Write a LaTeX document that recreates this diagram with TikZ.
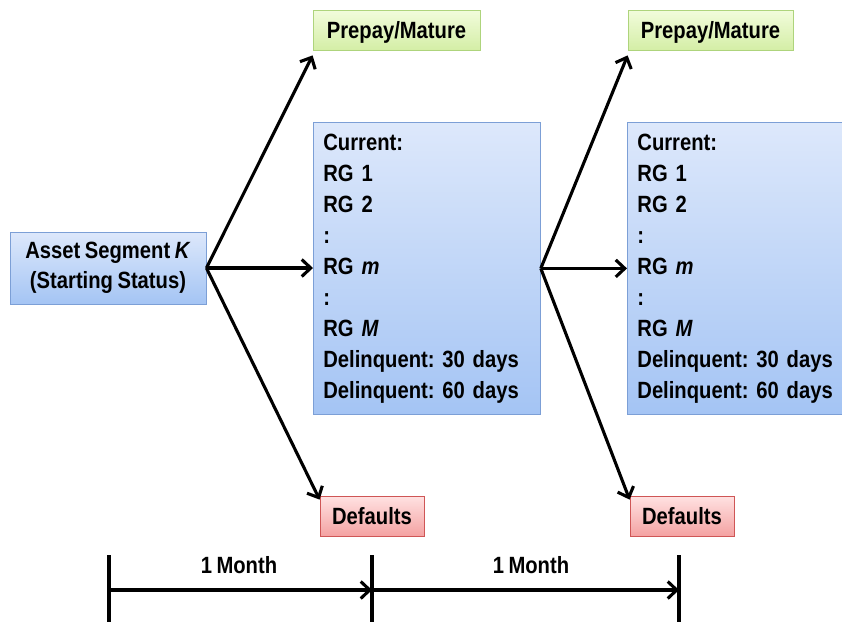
\documentclass[tikz,border=0pt]{standalone}
\usepackage{fontspec}
\setmainfont{Liberation Sans}[FakeStretch=0.86,WordSpace=0.8]
\usetikzlibrary{arrows.meta}
\frenchspacing
\definecolor{bluetop}{HTML}{DDE8FB}
\definecolor{bluebot}{HTML}{A4C4F4}
\definecolor{blueline}{HTML}{7C9FD6}
\definecolor{greentop}{HTML}{F2FCDC}
\definecolor{greenbot}{HTML}{D4EEA6}
\definecolor{greenline}{HTML}{AED47C}
\definecolor{redtop}{HTML}{FFE2E2}
\definecolor{redbot}{HTML}{F4A2A2}
\definecolor{redline}{HTML}{CF5656}
\tikzset{
  base/.style={draw, line width=0.8pt, inner sep=0pt, font=\fontsize{23.5}{31}\selectfont\bfseries},
  bluebox/.style={base, draw=blueline, top color=bluetop, bottom color=bluebot},
  greenbox/.style={base, draw=greenline, top color=greentop, bottom color=greenbot, text depth=0pt},
  redbox/.style={base, draw=redline, top color=redtop, bottom color=redbot, text depth=0pt},
  arr/.style={line width=3.1pt, -{Straight Barb[length=9pt,width=17pt,line width=3.1pt]}},
  tick/.style={line width=3.1pt},
  lbl/.style={font=\fontsize{23.5}{28}\selectfont\bfseries}
}
\begin{document}
\begin{tikzpicture}[x=1pt,y=-1pt]
\useasboundingbox (0,0) rectangle (842,625);
\clip (0,0) rectangle (842,625);
\node[bluebox, minimum width=196pt, minimum height=72pt, align=center, font=\fontsize{23.5}{30}\selectfont\bfseries] (seg) at (108,268) {Asset Segment \textit{K}\\(Starting Status)};
\node[greenbox, minimum width=167pt, minimum height=40pt] (pp1) at (396.5,30) {Prepay/Mature};
\node[greenbox, minimum width=165pt, minimum height=40pt] (pp2) at (710.5,30) {Prepay/Mature};
\node[redbox, minimum width=104pt, minimum height=40pt] (df1) at (372,516) {Defaults};
\node[redbox, minimum width=104pt, minimum height=40pt] (df2) at (682,516) {Defaults};
\node[bluebox, anchor=north west, minimum width=227pt, minimum height=292pt, text width=207pt, inner xsep=10pt, align=left] (cur1) at (313,122) {Current:\\RG 1\\RG 2\\:\\RG \textit{m}\\:\\RG \textit{M}\\Delinquent: 30 days\\Delinquent: 60 days};
\node[bluebox, anchor=north west, minimum width=235pt, minimum height=292pt, text width=215pt, inner xsep=10pt, align=left] (cur2) at (627,122) {Current:\\RG 1\\RG 2\\:\\RG \textit{m}\\:\\RG \textit{M}\\Delinquent: 30 days\\Delinquent: 60 days};
\coordinate (s1) at (seg.east);
\coordinate (s2) at (cur1.east);
\draw[arr] (s1) -- ([yshift=-5pt]pp1.south west);
\draw[arr] (s1) -- (cur1.west |- s1);
\draw[arr] (s1) -- ([yshift=-4pt]df1.north west);
\draw[arr] (s2) -- ([yshift=-5pt]pp2.south west);
\draw[arr] (s2) -- (cur2.west |- s2);
\draw[arr] (s2) -- ([yshift=-4pt]df2.north west);
% timeline
\coordinate (t1a) at (109,555); \coordinate (t1b) at (109,622);
\coordinate (t2a) at (372,555); \coordinate (t2b) at (372,622);
\coordinate (t3a) at (679,555); \coordinate (t3b) at (679,622);
\coordinate (m1) at (109,590); \coordinate (m2) at (372,590); \coordinate (m3) at (679,590);
\draw[tick] (t1a) -- (t1b);
\draw[tick] (t2a) -- (t2b);
\draw[tick] (t3a) -- (t3b);
\draw[arr] (m1) -- (m2);
\draw[arr] (m2) -- (m3);
\node[lbl] (l1) at (239,565) {1 Month};
\node[lbl] (l2) at (531,565) {1 Month};
\end{tikzpicture}
\end{document}
